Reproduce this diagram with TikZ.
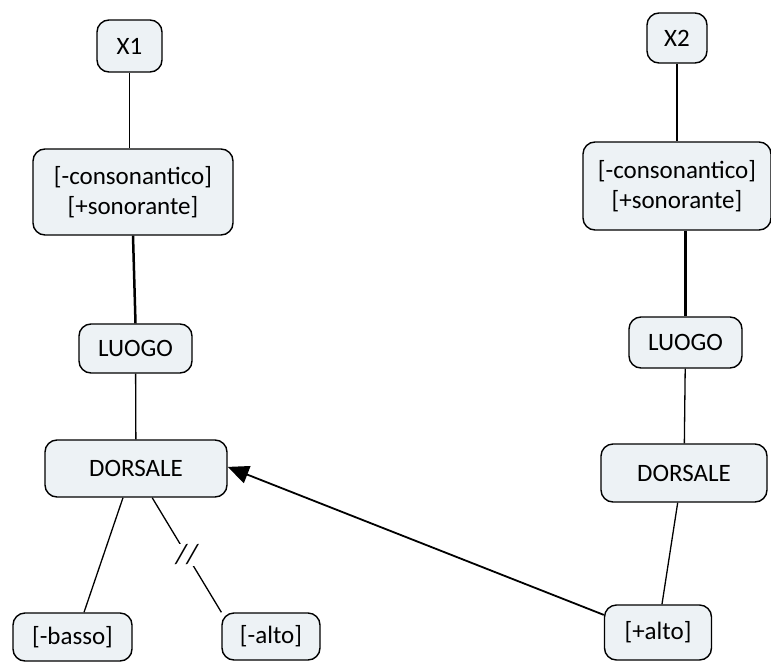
\documentclass[tikz,border=0pt]{standalone}
\usepackage{fontspec}
\setmainfont{Carlito}
\usepackage{tikz}
\usetikzlibrary{arrows.meta}
\usepackage{xcolor}
\definecolor{boxfill}{rgb}{0.93,0.95,0.96}

\begin{document}
\begin{tikzpicture}[x=1pt, y=-1pt,
  box/.style = {draw, rounded corners=12pt, fill=boxfill, line width=1.4pt,
                align=center, inner sep=0pt, font=\fontsize{25}{30}\selectfont},
  link/.style = {line width=1.3pt}
]
\useasboundingbox (0,0) rectangle (771,664);
% left column
\node[box, minimum width=65pt, minimum height=52pt] (x1) at (129.5,46) {X1};
\node[box, minimum width=200pt, minimum height=86pt] (c1) at (133,192) {[-consonantico]\\{}[+sonorante]};
\node[box, minimum width=113pt, minimum height=49pt] (l1) at (135.5,348.5) {LUOGO};
\node[box, minimum width=182pt, minimum height=57pt] (d1) at (136,468.5) {DORSALE};
\node[box, minimum width=119pt, minimum height=48pt] (bm) at (72.5,637) {[-basso]};
\node[box, minimum width=98pt, minimum height=47pt] (am) at (271,636.5) {[-alto]};
% right column
\node[box, minimum width=60pt, minimum height=50pt] (x2) at (677,38) {X2};
\node[box, minimum width=188pt, minimum height=88pt] (c2) at (677,186) {[-consonantico]\\{}[+sonorante]};
\node[box, minimum width=113pt, minimum height=51pt] (l2) at (685.5,342.5) {LUOGO};
\node[box, minimum width=166pt, minimum height=58pt] (d2) at (684,473) {DORSALE};
\node[box, minimum width=107pt, minimum height=55pt] (pa) at (658,632.5) {[+alto]};

\draw[link] (x1.south) -- (x1.south |- c1.north);
\draw[link, line width=2.5pt] (c1.south) -- (l1.north);
\draw[link] (l1) -- (d1);
\draw[link] (d1.246) -- (bm.65);
\draw[link] (d1.299) -- node[fill=white, inner sep=1pt, font=\fontsize{28}{30}\selectfont\itshape] {//} (am.154);

\draw[link] (x2) -- (x2 |- c2.north);
\draw[link, line width=2.5pt] (l2.north |- c2.south) -- (l2.north);
\draw[link] (l2) -- (d2);
\draw[link] (d2.258) -- (pa.82);

\draw[line width=1.8pt, -{Triangle[length=21pt,width=18pt]}] (pa.162) -- (d1.1);
\end{tikzpicture}
\end{document}
